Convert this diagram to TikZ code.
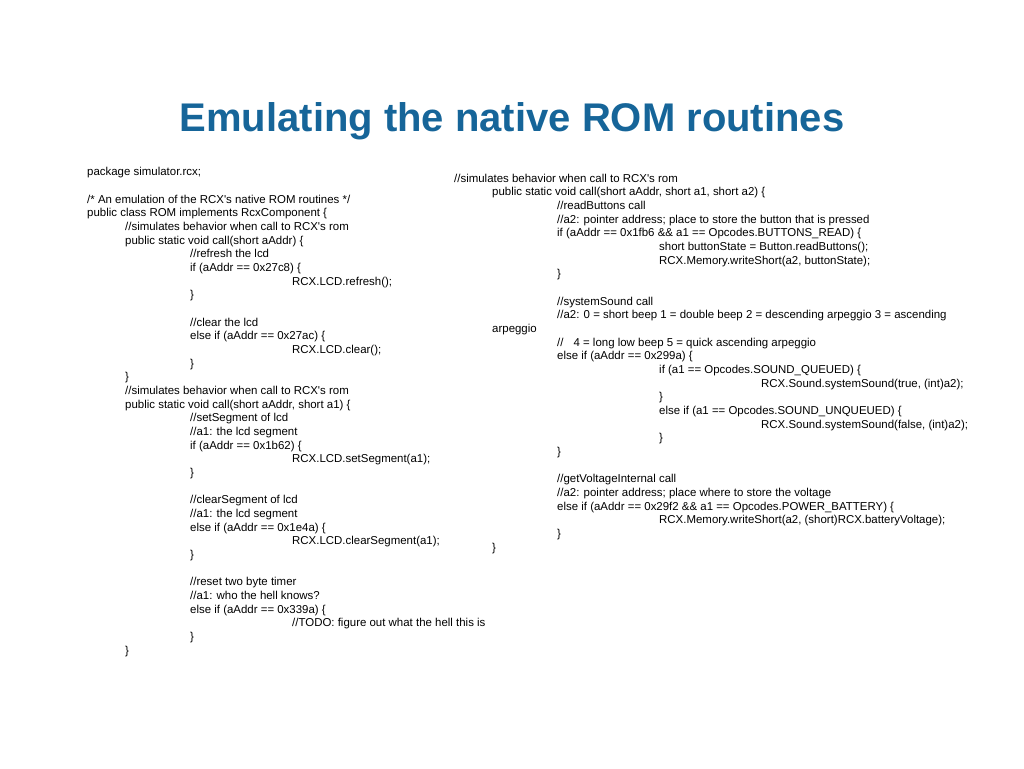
\documentclass[tikz,border=0pt]{standalone}
\usepackage{fontspec}
\setmainfont{Liberation Sans}
\newfontfamily\codefont[Ligatures=TeXOff]{Liberation Sans}
\definecolor{titleblue}{RGB}{22,101,153}
% tab stops of the listing
\newcommand{\tA}{\hspace*{38pt}}
\newcommand{\tB}{\hspace*{103pt}}
\newcommand{\tC}{\hspace*{205pt}}
\newcommand{\tD}{\hspace*{307pt}}

\begin{document}
\begin{tikzpicture}[x=1pt,y=1pt,
            title/.style = {font=\fontsize{40}{48}\selectfont\bfseries,
                text=titleblue,inner sep=0pt,anchor=base},
            code/.style = {font=\codefont\fontsize{11.45}{13.66}\selectfont,
                align=left,inner sep=0pt,anchor=base west}]
            \useasboundingbox (0,0) rectangle (1024,-768);
            \node[title](title) at (512,-131) {Emulating the native ROM routines};
            % left column (placed by its last line)
            \node[code](left) at (87,-654) {package simulator.rcx;\\
\mbox{}\\
/* An emulation of the RCX's native ROM routines */\\
public class ROM implements RcxComponent \{\\
\tA//simulates behavior when call to RCX's rom\\
\tA public static void call(short aAddr) \{\\
\tB//refresh the lcd\\
\tB if (aAddr == 0x27c8) \{\\
\tC RCX.LCD.refresh();\\
\tB\}\\
\mbox{}\\
\tB//clear the lcd\\
\tB else if (aAddr == 0x27ac) \{\\
\tC RCX.LCD.clear();\\
\tB\}\\
\tA\}\\
\tA//simulates behavior when call to RCX's rom\\
\tA public static void call(short aAddr, short a1) \{\\
\tB//setSegment of lcd\\
\tB//a1: the lcd segment\\
\tB if (aAddr == 0x1b62) \{\\
\tC RCX.LCD.setSegment(a1);\\
\tB\}\\
\mbox{}\\
\tB//clearSegment of lcd\\
\tB//a1: the lcd segment\\
\tB else if (aAddr == 0x1e4a) \{\\
\tC RCX.LCD.clearSegment(a1);\\
\tB\}\\
\mbox{}\\
\tB//reset two byte timer\\
\tB//a1: who the hell knows?\\
\tB else if (aAddr == 0x339a) \{\\
\tC//TODO: figure out what the hell this is\\
\tB\}\\
\tA\}};
            % right column (placed by its last line)
            \node[code](right) at (454,-551) {//simulates behavior when call to RCX's rom\\
\tA public static void call(short aAddr, short a1, short a2) \{\\
\tB//readButtons call\\
\tB//a2: pointer address; place to store the button that is pressed\\
\tB if (aAddr == 0x1fb6 \&\& a1 == Opcodes.BUTTONS\_READ) \{\\
\tC short buttonState = Button.readButtons();\\
\tC RCX.Memory.writeShort(a2, buttonState);\\
\tB\}\\
\mbox{}\\
\tB//systemSound call\\
\tB//a2: 0 = short beep 1 = double beep 2 = descending arpeggio 3 = ascending\\
\tA arpeggio\\
\tB//\hspace{10pt}4 = long low beep 5 = quick ascending arpeggio\\
\tB else if (aAddr == 0x299a) \{\\
\tC if (a1 == Opcodes.SOUND\_QUEUED) \{\\
\tD RCX.Sound.systemSound(true, (int)a2);\\
\tC\}\\
\tC else if (a1 == Opcodes.SOUND\_UNQUEUED) \{\\
\tD RCX.Sound.systemSound(false, (int)a2);\\
\tC\}\\
\tB\}\\
\mbox{}\\
\tB//getVoltageInternal call\\
\tB//a2: pointer address; place where to store the voltage\\
\tB else if (aAddr == 0x29f2 \&\& a1 == Opcodes.POWER\_BATTERY) \{\\
\tC RCX.Memory.writeShort(a2, (short)RCX.batteryVoltage);\\
\tB\}\\
\tA\}};
\end{tikzpicture}
\end{document}
